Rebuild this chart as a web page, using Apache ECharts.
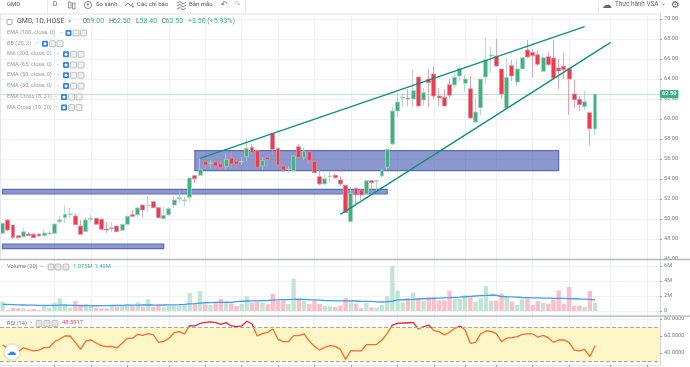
<!DOCTYPE html>
<html><head><meta charset="utf-8">
<style>html,body{margin:0;padding:0;background:#fff}#c{width:690px;height:367px}</style>
<script src="https://cdn.jsdelivr.net/npm/echarts@6/dist/echarts.min.js"></script>
</head><body><div id="c"></div>
<script>
const opens=[48.57,49.9,49.4,48.33,48.23,48.5,48.47,48.5,48.33,48.5,48.57,49.73,50.13,50.43,50.3,49.3,48.73,49.97,50.07,49.97,
49,49,49.3,48.87,49.47,50.43,50.43,51.4,51.33,51.73,51.13,50.03,50.43,51.4,52.03,51.83,52.17,54.33,54.37,55.77,
55.55,55.7,55.5,55.23,56.1,55.77,55.7,56.23,57.17,56.83,55.3,56.17,58.57,57.07,55.3,54.95,54.83,57.23,56.17,56.73,
55.77,54.23,53.5,54.23,54.37,53.9,53.37,49.73,53.07,52.9,52.5,53.83,53.77,54.3,55.17,57.5,60.8,62.13,62.1,62,
64.2,61.9,64,64.5,62.3,62.17,63.43,63.4,64.3,63.57,63.03,59.7,61.13,64.2,66.3,66.3,65,61.1,65.33,63.7,
65,66.9,66.67,66.43,64.77,66.23,66.1,65.1,65.27,65.03,62.5,61.97,61.23,60.63,59];
const closes=[49.57,48.9,48.17,48.13,48.73,48.33,48.13,48.3,48.6,48.6,49.5,49.9,50.47,50.5,49.43,48.47,49.9,50.07,49.47,48.97,
48.9,49.13,48.73,49.47,50.27,50.27,51.1,50.9,51.37,51.13,50.13,50.37,51.03,51.9,52.13,51.9,54.1,54.03,54.97,55.4,
55.6,55.3,55.17,55.97,55.5,55.5,55.75,57.07,56.63,55.17,55.83,55.97,56.97,55.4,54.9,55,56.3,56.17,56.8,55.83,
54.63,53.5,54.03,54.3,54.13,53.5,50.63,52.57,52.4,52.4,53.83,53.63,53.83,54.83,56.97,60.8,61.7,62.2,62,62.83,
61.3,62.63,63.63,62.3,62.1,61.3,62.37,64.17,65.05,64,60.1,60.7,64,65.9,66.4,65.3,62.5,64.17,64.3,65,
66.13,66.2,66.33,65.47,66.13,65.43,64.1,64.8,64.93,64,61.93,61.43,61.73,59.03,62.5];
const lows=[48.5,48.8,48,48.05,48.17,48.3,48.1,48.3,48.3,48.4,48.55,49.5,49.6,50.1,49.4,48.45,48.7,49.7,49.45,48.95,
48.6,48.7,48.7,48.8,49.4,50.2,50.2,50.15,50.7,51.1,50.1,50,50.3,51.1,51.6,51.3,51.7,53.6,54.3,55,
55,55,54.9,55,55.1,55.1,55.4,55.8,56.4,55.15,54.9,55.3,56.4,55.35,54.7,54.6,54.8,56.1,55.9,55.5,
54.6,53.4,53.4,53.7,54.1,53.3,50.6,49.7,51.5,51.9,52.4,52.5,52.7,54.1,54.9,57.4,60.2,61.2,61.3,61.2,
61.2,61.3,61.2,62,61.3,61.3,62.1,63.1,63.8,62.7,60,59.6,60.4,63.5,64.6,65.2,62,61,63.8,63.3,
65,66.1,64.2,65.3,64.7,65.3,64,63,64,60.4,61.1,60.8,60.9,57.4,58.4];
const highs=[49.6,50,49.4,48.4,49.13,48.7,48.6,48.5,48.9,48.8,49.55,50.3,51.4,51.1,50.6,49.9,50.1,50.4,50.1,50,
49.7,49.7,49.3,49.5,50.3,50.9,51.2,51.4,52.3,51.8,51.2,51.2,51.2,52.3,52.8,52.2,54.1,54.4,56,55.8,
55.9,55.9,55.9,56.57,56.6,55.8,56.2,58.07,57.5,56.9,56.2,56.3,58.6,57.1,55.6,55.3,56.3,57.5,57.1,56.8,
55.8,55,54.4,54.7,54.5,54.3,53.4,53.2,53.2,53,53.9,53.9,53.85,55,57,61.2,62.6,62.6,63,65,
64.2,63.1,65,65.3,63.1,63,64,64.7,65.3,64.4,64.3,62.2,64,68.1,67.2,68,65,66.1,65.9,66,
66.2,67.9,67,66.9,66.5,66.7,67.9,66,66.7,65.1,63.9,62.3,62.8,60.7,62.5];
const volumes=[1.24,.13,.44,.36,.36,.18,.27,.13,.8,.44,1.11,1.69,.98,.44,1.33,.89,.93,.67,.44,.36,
.36,.58,.62,.67,.89,.71,1.16,.58,1.56,.58,.89,.49,.67,.71,.71,.8,2.4,1.07,2.67,.89,
.8,1.11,1.6,1.11,1.02,.67,.93,1.96,1.11,1.2,1.11,.89,2.27,1.33,1.33,.93,4.27,1.51,1.33,.93,
1.38,.93,.67,.62,.53,.71,1.73,1.11,1.02,.36,1.07,.49,.44,.8,2,6,2.71,1.16,1.73,2.44,
1.69,1.33,1.87,1.87,1.42,1.42,2.71,1.6,1.6,2.13,1.87,1.24,1.69,3.33,1.38,1.38,2.31,1.82,1.24,.8,
1.56,1.69,.8,1.33,1.07,.98,1.51,2.76,.98,3.2,.71,.71,.58,2.67,1.075];
const volumeMA=[.89,.88,.86,.82,.8,.78,.77,.76,.76,.75,.76,.78,.77,.75,.74,.72,.72,.71,.7,.71,
.72,.73,.74,.75,.77,.78,.78,.8,.82,.8,.79,.8,.81,.82,.85,.89,.95,.98,1.05,1.1,
1.12,1.14,1.16,1.18,1.16,1.24,1.3,1.33,1.34,1.36,1.38,1.4,1.44,1.47,1.5,1.52,1.56,1.58,1.55,1.5,
1.47,1.44,1.4,1.38,1.36,1.36,1.35,1.33,1.33,1.3,1.28,1.27,1.22,1.2,1.24,1.3,1.47,1.5,1.52,1.55,
1.6,1.63,1.66,1.69,1.72,1.75,1.78,1.82,1.84,1.9,1.95,2.0,2.04,2.08,2.13,2.1,1.93,1.9,1.88,1.85,
1.8,1.78,1.76,1.75,1.72,1.72,1.69,1.68,1.67,1.66,1.63,1.6,1.58,1.55,1.49];
const rsi=[49.4,45.5,40.8,41.6,46.3,43.9,42.4,43.5,46.3,46.7,53.3,56.5,60,60,52.5,44.3,54.1,55.3,51.8,48.6,
47.5,47.8,45.9,51.4,57.3,57.3,62,60.8,62.7,61.2,52.5,53.7,57.3,63.9,65.1,62.4,72.2,71.8,74.9,76.1,
76.5,75.7,73.7,75.7,71.8,71,71.8,77.3,74.1,60,62.7,64.3,68.2,56.1,53.3,53.3,60.4,60.4,62.4,54.1,
47.8,43.5,46.7,48.6,47.8,44.3,32.5,42.7,42.4,42.4,49.8,49.8,50.2,55.3,63.1,72.9,74.9,75.3,75.3,76.1,
68.2,71,72.9,66.3,65.1,61.2,64.3,69,71.8,67.1,51.4,52.5,62.7,65.9,65.5,62.7,53.3,57.6,58,59.2,
62,62.4,62.4,58.8,60.8,58,52.5,55.3,55.3,52.5,43.5,42.4,44.3,35.7,48.59];
const categories=Array.from({length:127},(_,i)=>String(i));
const timeTicks=[10,17,24,32,39,46,53,60,67,76,83,89,95,102,109,117,124];
const zoneBoxes=[[37,56.84,107,54.83],[0,52.97,74,52.5],[0,47.5,31,47.03]];
const upperTrend=[[38,56.07],[112,69.23]];
const lowerTrend=[[65,50.47],[117,67.67]];
const lastPrice=62.5;
const volumeTicks=[0,2,4,6];
const rsiTicks=[40,60,80];
const rsiBand=[30,70];
const rsiMax=82.35,rsiMin=25.9;
const indicatorRows=[["EMA (100, close, 0)",33,68.5],["BB (20, 2)",43.7,45],["MA (200, close, 0)",54.3,66],["EMA (65, close, 0)",65,66],["EMA (50, close, 0)",75.3,66],["EMA (30, close, 0)",86,66],["EMA Cross (8, 21)",97,64],["MA Cross (10, 20)",107.5,64]];

const UP='#3fb283',DOWN='#ef3a50',F='Roboto';
const candles=opens.map((o,i)=>[o,closes[i],lows[i],highs[i]]);
const isTick=i=>timeTicks.includes(i);
const gridLine={show:true,interval:(i)=>isTick(i),alignWithLabel:true,lineStyle:{color:'#eef2f7',width:1}};
const xBase=(g)=>({type:'category',gridIndex:g,data:categories,boundaryGap:true,axisLine:{show:false},axisTick:{show:false},axisLabel:{show:false},splitLine:gridLine});
const yBase=(g)=>({type:'value',gridIndex:g,position:'right',scale:false,
  axisLine:{show:true,lineStyle:{color:'#d4d6da'}},axisTick:{show:true,length:2,lineStyle:{color:'#9a9ea6'}},
  axisLabel:{color:'#7d8188',fontSize:5.6,fontFamily:F,margin:4},splitLine:{show:true,lineStyle:{color:'#eef2f7',width:1}}});

const txt=(x,y,text,fill,size,extra)=>({type:'text',left:x,top:y-size*0.6,z:30,silent:true,style:Object.assign({text,fill,font:`${size}px ${F}`},extra||{})});
const square=(x,y,stroke,fillc)=>({type:'rect',z:30,silent:true,shape:{x:x-3,y:y-3,width:6,height:6,r:1},style:{fill:fillc,stroke,lineWidth:.7}});
const graphics=[
 {type:'rect',z:28,silent:true,shape:{x:0,y:0,width:690,height:13},style:{fill:'#fff'}},
 {type:'rect',z:28,silent:true,shape:{x:0,y:13,width:660,height:1},style:{fill:'#eceef2'}},
 {type:'rect',z:29,silent:true,shape:{x:0,y:14,width:1,height:245},style:{fill:'#e3e6f2'}},
 {type:'rect',z:28,silent:true,shape:{x:0,y:258.7,width:690,height:1.6},style:{fill:'#b4b6b9'}},
 {type:'rect',z:28,silent:true,shape:{x:0,y:315.3,width:690,height:1.6},style:{fill:'#c4c6c9'}},
 {type:'rect',z:29,silent:true,shape:{x:47,y:0,width:1,height:13},style:{fill:'#e6e8ec'}},
 {type:'rect',z:29,silent:true,shape:{x:245,y:0,width:1,height:13},style:{fill:'#e6e8ec'}},
 {type:'rect',z:29,silent:true,shape:{x:598,y:0,width:1,height:13},style:{fill:'#e6e8ec'}},
 txt(7,5,'GMD','#555',6),txt(53,5,'D','#555',6.5),
 {type:'rect',z:30,silent:true,shape:{x:68.5,y:2,width:2.5,height:6},style:{fill:'#fff',stroke:'#666',lineWidth:.7}},
 {type:'rect',z:30,silent:true,shape:{x:72.5,y:3,width:2.5,height:6},style:{fill:'#fff',stroke:'#666',lineWidth:.7}},
 {type:'circle',z:30,silent:true,shape:{cx:88,cy:5,r:3.6},style:{fill:'#fff',stroke:'#555',lineWidth:.7}},
 txt(86.2,5,'+','#555',6),
 txt(96,5,'So sánh','#555',6),
 {type:'polyline',z:30,silent:true,shape:{points:[[125,6],[128,3],[131,6],[133,3]]},style:{fill:'none',stroke:'#555',lineWidth:.7}},
 txt(131.5,7.5,'+','#555',5),
 txt(137,5,'Các chỉ báo','#555',6),
 {type:'polyline',z:30,silent:true,shape:{points:[[177,3],[180,1.5],[183,4],[186,2]]},style:{fill:'none',stroke:'#555',lineWidth:.7}},
 {type:'polyline',z:30,silent:true,shape:{points:[[177,6],[180,4.5],[183,7],[186,5]]},style:{fill:'none',stroke:'#555',lineWidth:.7}},
 {type:'polyline',z:30,silent:true,shape:{points:[[177,9],[180,7.5],[183,10],[186,8]]},style:{fill:'none',stroke:'#555',lineWidth:.7}},
 txt(189,5,'Bản mẫu','#555',6),
 {type:'text',z:30,silent:true,left:221,top:1,style:{text:'↶',fill:'#666',font:'8px "DejaVu Sans"'}},
 {type:'text',z:30,silent:true,left:234,top:1,style:{text:'↷',fill:'#bbb',font:'8px "DejaVu Sans"'}},
 {type:'text',z:30,silent:true,left:602,top:0,style:{text:'☁',fill:'#666',font:'10px "DejaVu Sans"'}},
 txt(615,5,'Thực hành VSA','#666',6.3),
 txt(661,4,'⌄','#666',5.5),
 {type:'text',z:30,silent:true,left:671,top:0,style:{text:'⚙',fill:'#666',font:'10px "DejaVu Sans"'}},
 {type:'rect',z:30,silent:true,shape:{x:7,y:19.5,width:5,height:5,r:1},style:{fill:'#fff',stroke:'#888',lineWidth:.7}},
 txt(17,22,'GMD, 1D, HOSE','#555',7),txt(66.5,21,'⌄','#555',5.5),
 txt(82.5,22,'O','#666',7),txt(86.5,22,'59.00','#3fb283',7),
 txt(109,22,'H','#666',7),txt(113,22,'62.50','#3fb283',7),
 txt(136,22,'L','#666',7),txt(139.5,22,'58.40','#3fb283',7),
 txt(161.5,22,'C','#666',7),txt(165.5,22,'62.50','#3fb283',7),
 txt(188,22,'+3.50 (+5.93%)','#3fb283',7),
 txt(7,267,'Volume (20)','#777',5.6),txt(40,266,'⌄','#777',5),
 square(51,267,'#aaa','#e6e6e6'),square(58,267,'#aaa','#e6e6e6'),square(66,267,'#aaa','#e6e6e6'),
 txt(73,267,'1.075M','#3fb283',5.8),txt(94.5,267,'1.49M','#3c9fe6',5.8),
 txt(7,323.5,'RSI (14)','#777',5.6),txt(29,322.5,'⌄','#777',5),
 square(39,323.5,'#aaa','#e6e6e6'),square(47,323.5,'#aaa','#e6e6e6'),square(55,323.5,'#aaa','#e6e6e6'),
 txt(62,323.5,'48.5917','#ef3a50',5.8),
 {type:'circle',z:31,silent:true,shape:{cx:12,cy:352,r:7.5},style:{fill:'#fff',shadowBlur:3,shadowColor:'rgba(0,0,0,.25)'}},
 {type:'text',z:32,silent:true,left:6.5,top:347,style:{text:'☁',fill:'#2b86ef',font:'10px "DejaVu Sans"'}}
];
indicatorRows.forEach(r=>{
  graphics.push(txt(7,r[1],r[0],'#9a9a9a',5.6));
  graphics.push(txt(r[2]-10,r[1]-1,'⌄','#aaa',5));
  graphics.push({type:'rect',z:30,silent:true,shape:{x:r[2]-3,y:r[1]-3,width:6,height:6,r:1},style:{fill:'#2b86ef'}});
  graphics.push({type:'circle',z:31,silent:true,shape:{cx:r[2],cy:r[1],r:1.5},style:{fill:'#fff'}});
  graphics.push(square(r[2]+7.5,r[1],'#aaa','#f0f0f0'));
  graphics.push(square(r[2]+15,r[1],'#aaa','#f0f0f0'));
});

const option={
 animation:false,backgroundColor:'#fff',
 grid:[{left:0,right:30,top:14,height:245},{left:0,right:30,top:260,height:56},{left:0,right:30,top:317,height:48}],
 xAxis:[xBase(0),xBase(1),Object.assign(xBase(2),{axisTick:{show:true,length:2,interval:(i)=>isTick(i),alignWithLabel:true,lineStyle:{color:'#9a9ea6'}},axisLine:{show:true,lineStyle:{color:'#e2e4e8'}}})],
 yAxis:[
  Object.assign(yBase(0),{min:46,max:70.5,interval:2,axisLabel:Object.assign(yBase(0).axisLabel,{formatter:v=>v.toFixed(2)})}),
  Object.assign(yBase(1),{min:-0.667,max:6.8,axisTick:Object.assign(yBase(1).axisTick,{customValues:volumeTicks}),axisLabel:Object.assign(yBase(1).axisLabel,{customValues:volumeTicks,formatter:v=>v===0?'0':v+'M'})}),
  Object.assign(yBase(2),{min:rsiMin,max:rsiMax,axisTick:Object.assign(yBase(2).axisTick,{customValues:rsiTicks}),axisLabel:Object.assign(yBase(2).axisLabel,{customValues:rsiTicks,formatter:v=>v.toFixed(4)})})
 ],
 series:[
  {type:'custom',name:'Zones',xAxisIndex:0,yAxisIndex:0,z:2,clip:true,encode:{x:[0,2],y:[1,3]},data:zoneBoxes,
   renderItem:(p,api)=>{const a=api.coord([api.value(0),api.value(1)]),b=api.coord([api.value(2),api.value(3)]);
     return {type:'rect',shape:{x:a[0],y:a[1],width:b[0]-a[0],height:b[1]-a[1]},style:{fill:'rgba(64,84,172,.6)',stroke:'#5a6cb8',lineWidth:1.2}};}},
  {type:'candlestick',name:'GMD',xAxisIndex:0,yAxisIndex:0,z:3,barWidth:4.4,data:candles,
   itemStyle:{color:UP,color0:DOWN,borderColor:'#a9d2bf',borderColor0:'#d8929f',borderWidth:.8},
   markLine:{silent:true,symbol:'none',animation:false,z:1,data:[{yAxis:lastPrice}],lineStyle:{color:'#bfe3d1',width:1,type:'solid'},
     label:{position:'end',distance:0,formatter:()=>lastPrice.toFixed(2),color:'#fff',fontSize:5.6,fontWeight:'bold',fontFamily:F,backgroundColor:'#3aaf85',padding:[1,2,1,2],borderRadius:1}}},
  {type:'line',name:'Upper trend',xAxisIndex:0,yAxisIndex:0,z:4,data:upperTrend,symbol:'none',lineStyle:{color:'#0f917b',width:1.4}},
  {type:'line',name:'Lower trend',xAxisIndex:0,yAxisIndex:0,z:4,data:lowerTrend,symbol:'none',lineStyle:{color:'#0f917b',width:1.4}},
  {type:'bar',name:'Volume',xAxisIndex:1,yAxisIndex:1,barWidth:4.4,z:2,
   data:volumes.map((v,i)=>({value:v,itemStyle:{color:closes[i]>=opens[i]?'#c2e4d5':'#fbbfc9'}}))},
  {type:'line',name:'Volume MA',xAxisIndex:1,yAxisIndex:1,z:3,data:volumeMA,symbol:'none',lineStyle:{color:'#3f9fea',width:1.3}},
  {type:'line',name:'RSI',xAxisIndex:2,yAxisIndex:2,z:3,data:rsi,symbol:'none',
   lineStyle:{width:1.3,color:(()=>{const s=(rsiMax-rsiBand[1])/(rsiMax-rsiMin);return {type:'linear',global:true,x:0,y:317,x2:0,y2:365,colorStops:[{offset:0,color:'#f5212f'},{offset:s,color:'#f5212f'},{offset:s,color:'#ff6a1f'},{offset:1,color:'#ff6a1f'}]};})()},
   markArea:{silent:true,z:1,itemStyle:{color:'#fdf6c6'},data:[[{yAxis:rsiBand[1]},{yAxis:rsiBand[0]}]]},
   markLine:{silent:true,symbol:'none',label:{show:false},lineStyle:{color:'#a9a89a',type:'dashed',width:1},data:[{yAxis:rsiBand[1]},{yAxis:rsiBand[0]}]}}
 ],
 graphic:graphics
};
echarts.init(document.getElementById('c'),null,{renderer:'canvas'}).setOption(option);
</script></body></html>
